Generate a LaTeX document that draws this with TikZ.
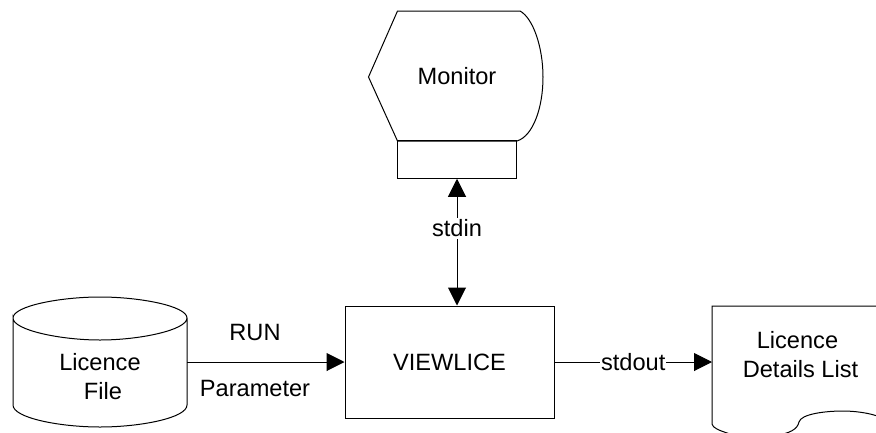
\documentclass[tikz,border=0pt]{standalone}
\usepackage{fontspec}
\setmainfont{Liberation Sans}
\usetikzlibrary{positioning,arrows.meta}
\tikzstyle{arrow} = [line width=1pt,-{Triangle[length=18pt,width=18pt]}]
\tikzstyle{twoway} = [line width=1pt,{Triangle[length=18pt,width=18pt]}-{Triangle[length=18pt,width=18pt]}]
\tikzstyle{block} = [draw, line width=1pt, rectangle, inner sep=0pt]
\tikzstyle{outline} = [line width=1pt]
\tikzstyle{caption} = [align=center, inner sep=0pt, font=\fontsize{23.6}{29}\selectfont]
\tikzstyle{flow} = [caption, fill=white, inner xsep=1pt, inner ysep=2pt]
\tikzstyle{input} = [coordinate]
\begin{document}
\begin{tikzpicture}[x=1pt, y=-1pt]
    \clip (0,0) rectangle (876,432);
    % The monitor and its stand
    \draw [outline] (397.5,11) -- (368.5,77) -- (397.5,141) -- (517,141)
        .. controls (533,136) and (543,108) .. (543,77)
        .. controls (543,47) and (533,18) .. (520,11) -- cycle;
    \node [caption] (monitor) at (457,76) {Monitor};
    \node [block, minimum width=119pt, minimum height=37.5pt] (stand) at (457,159.5) {};
    % The three blocks of the lower row
    \node [block, minimum width=209pt, minimum height=112pt] (viewlice) at (449.5,362) {};
    \node [caption] at (viewlice) {VIEWLICE};
    \draw [outline] (13,318) .. controls (13,306) and (60,297) .. (100,297)
        .. controls (140,297) and (187,306) .. (187,318)
        .. controls (187,330) and (140,340) .. (100,340)
        .. controls (60,340) and (13,330) .. (13,318) -- (13,405)
        .. controls (13,418) and (60,427) .. (100,427)
        .. controls (140,427) and (187,418) .. (187,405) -- (187,318);
    \node [caption] (licfile) at (103,377) {Licence\hspace*{6pt}\\File};
    \draw [outline] (880,306) -- (712,306) -- (712,424)
        .. controls (713,428) and (718,430) .. (730,434)
        .. controls (765,438) and (796,437) .. (799,422)
        .. controls (801,414) and (825,411) .. (843,411)
        .. controls (855,411) and (870,413) .. (880,417);
    \node [caption] (liclist) at (800.5,355) {Licence\hspace*{6pt}\\Details List};
    % Connectors
    \node [input] (fileout) at (187,362) {};
    \node [input] (listin) at (712,362) {};
    \draw [arrow] (fileout) -- (fileout -| viewlice.west);
    \draw [arrow] (viewlice.east |- listin) -- node[flow, pos=0.5]{stdout} (listin);
    \draw [twoway] (stand.south -| monitor) -- node[flow, pos=0.39]{stdin} (viewlice.north -| monitor);
    \node [caption, above=21pt of fileout, xshift=68pt] (run) {RUN};
    \node [caption, below=18pt of fileout, xshift=68pt] (param) {Parameter};
\end{tikzpicture}
\end{document}
